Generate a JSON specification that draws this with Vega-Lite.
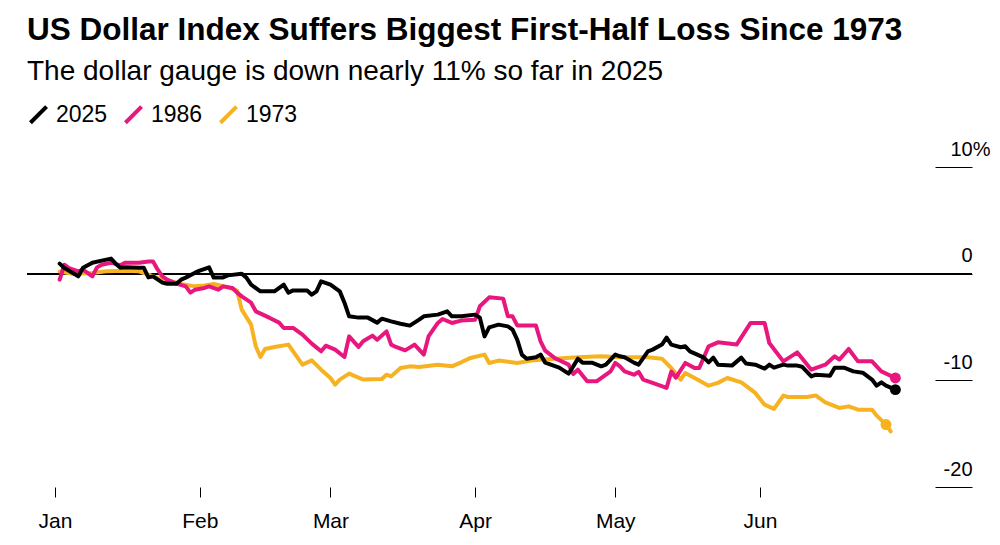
{
  "$schema": "https://vega.github.io/schema/vega-lite/v6.json",
  "width": 945,
  "height": 320,
  "autosize": {"type": "none"},
  "padding": {"left": 27, "top": 167, "right": 28, "bottom": 58},
  "background": "white",
  "title": {
    "text": "US Dollar Index Suffers Biggest First-Half Loss Since 1973",
    "subtitle": "The dollar gauge is down nearly 11% so far in 2025",
    "anchor": "start",
    "frame": "group",
    "font": "Liberation Sans",
    "fontSize": 31.5,
    "fontWeight": "bold",
    "color": "#000000",
    "subtitleFont": "Liberation Sans",
    "subtitleFontSize": 28,
    "subtitleColor": "#000000",
    "subtitlePadding": 12,
    "offset": 17
  },
  "datasets": {
    "fx": [
      {"series": "1973", "date": "2025-01-02", "change": 0.19},
      {"series": "1973", "date": "2025-01-05", "change": -0.03},
      {"series": "1973", "date": "2025-01-09", "change": 0.07},
      {"series": "1973", "date": "2025-01-12", "change": 0.22},
      {"series": "1973", "date": "2025-01-16", "change": 0.28},
      {"series": "1973", "date": "2025-01-19", "change": 0.22},
      {"series": "1973", "date": "2025-01-21", "change": -0.09},
      {"series": "1973", "date": "2025-01-23", "change": -0.4},
      {"series": "1973", "date": "2025-01-26", "change": -0.72},
      {"series": "1973", "date": "2025-01-28", "change": -0.97},
      {"series": "1973", "date": "2025-01-31", "change": -1.19},
      {"series": "1973", "date": "2025-02-02", "change": -1.1},
      {"series": "1973", "date": "2025-02-04", "change": -0.97},
      {"series": "1973", "date": "2025-02-07", "change": -1.28},
      {"series": "1973", "date": "2025-02-09", "change": -1.59},
      {"series": "1973", "date": "2025-02-10", "change": -3.37},
      {"series": "1973", "date": "2025-02-12", "change": -4.78},
      {"series": "1973", "date": "2025-02-13", "change": -6.81},
      {"series": "1973", "date": "2025-02-14", "change": -7.81},
      {"series": "1973", "date": "2025-02-15", "change": -7.06},
      {"series": "1973", "date": "2025-02-17", "change": -6.87},
      {"series": "1973", "date": "2025-02-20", "change": -6.65},
      {"series": "1973", "date": "2025-02-21", "change": -7.28},
      {"series": "1973", "date": "2025-02-23", "change": -8.53},
      {"series": "1973", "date": "2025-02-25", "change": -8.13},
      {"series": "1973", "date": "2025-02-27", "change": -9.0},
      {"series": "1973", "date": "2025-03-01", "change": -9.78},
      {"series": "1973", "date": "2025-03-02", "change": -10.4},
      {"series": "1973", "date": "2025-03-03", "change": -9.93},
      {"series": "1973", "date": "2025-03-05", "change": -9.37},
      {"series": "1973", "date": "2025-03-08", "change": -9.93},
      {"series": "1973", "date": "2025-03-12", "change": -9.87},
      {"series": "1973", "date": "2025-03-13", "change": -9.47},
      {"series": "1973", "date": "2025-03-14", "change": -9.63},
      {"series": "1973", "date": "2025-03-16", "change": -8.84},
      {"series": "1973", "date": "2025-03-18", "change": -8.69},
      {"series": "1973", "date": "2025-03-20", "change": -8.74},
      {"series": "1973", "date": "2025-03-24", "change": -8.53},
      {"series": "1973", "date": "2025-03-27", "change": -8.69},
      {"series": "1973", "date": "2025-03-29", "change": -8.31},
      {"series": "1973", "date": "2025-03-31", "change": -7.9},
      {"series": "1973", "date": "2025-04-03", "change": -7.59},
      {"series": "1973", "date": "2025-04-04", "change": -8.37},
      {"series": "1973", "date": "2025-04-06", "change": -8.15},
      {"series": "1973", "date": "2025-04-10", "change": -8.37},
      {"series": "1973", "date": "2025-04-13", "change": -8.15},
      {"series": "1973", "date": "2025-04-18", "change": -7.97},
      {"series": "1973", "date": "2025-04-23", "change": -7.84},
      {"series": "1973", "date": "2025-04-28", "change": -7.75},
      {"series": "1973", "date": "2025-05-02", "change": -7.84},
      {"series": "1973", "date": "2025-05-08", "change": -7.84},
      {"series": "1973", "date": "2025-05-11", "change": -7.97},
      {"series": "1973", "date": "2025-05-13", "change": -8.84},
      {"series": "1973", "date": "2025-05-15", "change": -9.93},
      {"series": "1973", "date": "2025-05-16", "change": -9.31},
      {"series": "1973", "date": "2025-05-18", "change": -9.78},
      {"series": "1973", "date": "2025-05-21", "change": -10.5},
      {"series": "1973", "date": "2025-05-23", "change": -10.24},
      {"series": "1973", "date": "2025-05-25", "change": -9.78},
      {"series": "1973", "date": "2025-05-28", "change": -10.19},
      {"series": "1973", "date": "2025-05-31", "change": -11.18},
      {"series": "1973", "date": "2025-06-02", "change": -12.28},
      {"series": "1973", "date": "2025-06-04", "change": -12.68},
      {"series": "1973", "date": "2025-06-06", "change": -11.43},
      {"series": "1973", "date": "2025-06-07", "change": -11.56},
      {"series": "1973", "date": "2025-06-11", "change": -11.56},
      {"series": "1973", "date": "2025-06-13", "change": -11.43},
      {"series": "1973", "date": "2025-06-15", "change": -12.06},
      {"series": "1973", "date": "2025-06-18", "change": -12.59},
      {"series": "1973", "date": "2025-06-20", "change": -12.44},
      {"series": "1973", "date": "2025-06-22", "change": -12.75},
      {"series": "1973", "date": "2025-06-25", "change": -12.75},
      {"series": "1973", "date": "2025-06-26", "change": -13.31},
      {"series": "1973", "date": "2025-06-28", "change": -14.15},
      {"series": "1973", "date": "2025-06-29", "change": -14.78},

      {"series": "1986", "date": "2025-01-02", "change": -0.56},
      {"series": "1986", "date": "2025-01-03", "change": 0.84},
      {"series": "1986", "date": "2025-01-04", "change": 0.53},
      {"series": "1986", "date": "2025-01-06", "change": 0.22},
      {"series": "1986", "date": "2025-01-07", "change": 0.37},
      {"series": "1986", "date": "2025-01-09", "change": -0.25},
      {"series": "1986", "date": "2025-01-10", "change": 0.59},
      {"series": "1986", "date": "2025-01-11", "change": 0.84},
      {"series": "1986", "date": "2025-01-13", "change": 1.03},
      {"series": "1986", "date": "2025-01-15", "change": 0.78},
      {"series": "1986", "date": "2025-01-16", "change": 1.03},
      {"series": "1986", "date": "2025-01-19", "change": 1.03},
      {"series": "1986", "date": "2025-01-21", "change": 1.15},
      {"series": "1986", "date": "2025-01-22", "change": 1.15},
      {"series": "1986", "date": "2025-01-23", "change": 0.37},
      {"series": "1986", "date": "2025-01-24", "change": -0.25},
      {"series": "1986", "date": "2025-01-25", "change": -0.56},
      {"series": "1986", "date": "2025-01-27", "change": -0.94},
      {"series": "1986", "date": "2025-01-29", "change": -1.19},
      {"series": "1986", "date": "2025-01-30", "change": -1.78},
      {"series": "1986", "date": "2025-01-31", "change": -1.5},
      {"series": "1986", "date": "2025-02-02", "change": -1.34},
      {"series": "1986", "date": "2025-02-03", "change": -1.19},
      {"series": "1986", "date": "2025-02-05", "change": -1.5},
      {"series": "1986", "date": "2025-02-06", "change": -1.19},
      {"series": "1986", "date": "2025-02-08", "change": -1.34},
      {"series": "1986", "date": "2025-02-09", "change": -1.78},
      {"series": "1986", "date": "2025-02-10", "change": -2.13},
      {"series": "1986", "date": "2025-02-12", "change": -2.72},
      {"series": "1986", "date": "2025-02-13", "change": -3.53},
      {"series": "1986", "date": "2025-02-16", "change": -4.15},
      {"series": "1986", "date": "2025-02-18", "change": -4.59},
      {"series": "1986", "date": "2025-02-19", "change": -5.09},
      {"series": "1986", "date": "2025-02-21", "change": -5.09},
      {"series": "1986", "date": "2025-02-23", "change": -5.72},
      {"series": "1986", "date": "2025-02-25", "change": -6.56},
      {"series": "1986", "date": "2025-02-27", "change": -7.28},
      {"series": "1986", "date": "2025-02-28", "change": -6.75},
      {"series": "1986", "date": "2025-03-02", "change": -7.12},
      {"series": "1986", "date": "2025-03-04", "change": -7.81},
      {"series": "1986", "date": "2025-03-05", "change": -5.88},
      {"series": "1986", "date": "2025-03-07", "change": -6.87},
      {"series": "1986", "date": "2025-03-08", "change": -6.34},
      {"series": "1986", "date": "2025-03-10", "change": -5.81},
      {"series": "1986", "date": "2025-03-11", "change": -6.19},
      {"series": "1986", "date": "2025-03-13", "change": -5.41},
      {"series": "1986", "date": "2025-03-14", "change": -6.65},
      {"series": "1986", "date": "2025-03-15", "change": -6.87},
      {"series": "1986", "date": "2025-03-17", "change": -7.19},
      {"series": "1986", "date": "2025-03-19", "change": -6.65},
      {"series": "1986", "date": "2025-03-21", "change": -7.59},
      {"series": "1986", "date": "2025-03-22", "change": -5.88},
      {"series": "1986", "date": "2025-03-24", "change": -4.62},
      {"series": "1986", "date": "2025-03-25", "change": -4.25},
      {"series": "1986", "date": "2025-03-27", "change": -4.62},
      {"series": "1986", "date": "2025-03-29", "change": -4.4},
      {"series": "1986", "date": "2025-04-01", "change": -4.31},
      {"series": "1986", "date": "2025-04-02", "change": -3.06},
      {"series": "1986", "date": "2025-04-04", "change": -2.22},
      {"series": "1986", "date": "2025-04-07", "change": -2.34},
      {"series": "1986", "date": "2025-04-08", "change": -4.0},
      {"series": "1986", "date": "2025-04-09", "change": -4.0},
      {"series": "1986", "date": "2025-04-10", "change": -4.85},
      {"series": "1986", "date": "2025-04-14", "change": -4.85},
      {"series": "1986", "date": "2025-04-15", "change": -6.34},
      {"series": "1986", "date": "2025-04-16", "change": -7.22},
      {"series": "1986", "date": "2025-04-18", "change": -7.9},
      {"series": "1986", "date": "2025-04-21", "change": -8.53},
      {"series": "1986", "date": "2025-04-22", "change": -9.4},
      {"series": "1986", "date": "2025-04-23", "change": -9.0},
      {"series": "1986", "date": "2025-04-25", "change": -10.09},
      {"series": "1986", "date": "2025-04-27", "change": -10.09},
      {"series": "1986", "date": "2025-04-30", "change": -9.16},
      {"series": "1986", "date": "2025-05-01", "change": -8.37},
      {"series": "1986", "date": "2025-05-02", "change": -8.69},
      {"series": "1986", "date": "2025-05-03", "change": -9.16},
      {"series": "1986", "date": "2025-05-05", "change": -9.47},
      {"series": "1986", "date": "2025-05-06", "change": -9.21},
      {"series": "1986", "date": "2025-05-07", "change": -9.93},
      {"series": "1986", "date": "2025-05-09", "change": -10.24},
      {"series": "1986", "date": "2025-05-12", "change": -10.71},
      {"series": "1986", "date": "2025-05-13", "change": -9.18},
      {"series": "1986", "date": "2025-05-14", "change": -9.75},
      {"series": "1986", "date": "2025-05-16", "change": -8.37},
      {"series": "1986", "date": "2025-05-18", "change": -8.84},
      {"series": "1986", "date": "2025-05-19", "change": -8.84},
      {"series": "1986", "date": "2025-05-21", "change": -6.81},
      {"series": "1986", "date": "2025-05-23", "change": -6.44},
      {"series": "1986", "date": "2025-05-27", "change": -6.65},
      {"series": "1986", "date": "2025-05-30", "change": -4.62},
      {"series": "1986", "date": "2025-06-02", "change": -4.62},
      {"series": "1986", "date": "2025-06-03", "change": -6.5},
      {"series": "1986", "date": "2025-06-06", "change": -8.22},
      {"series": "1986", "date": "2025-06-09", "change": -7.38},
      {"series": "1986", "date": "2025-06-12", "change": -9.0},
      {"series": "1986", "date": "2025-06-15", "change": -8.53},
      {"series": "1986", "date": "2025-06-17", "change": -7.75},
      {"series": "1986", "date": "2025-06-18", "change": -8.06},
      {"series": "1986", "date": "2025-06-20", "change": -7.06},
      {"series": "1986", "date": "2025-06-22", "change": -8.22},
      {"series": "1986", "date": "2025-06-25", "change": -8.22},
      {"series": "1986", "date": "2025-06-27", "change": -9.16},
      {"series": "1986", "date": "2025-06-30", "change": -9.78},

      {"series": "2025", "date": "2025-01-02", "change": 0.94},
      {"series": "2025", "date": "2025-01-03", "change": 0.53},
      {"series": "2025", "date": "2025-01-06", "change": -0.25},
      {"series": "2025", "date": "2025-01-07", "change": 0.56},
      {"series": "2025", "date": "2025-01-09", "change": 1.03},
      {"series": "2025", "date": "2025-01-11", "change": 1.22},
      {"series": "2025", "date": "2025-01-13", "change": 1.41},
      {"series": "2025", "date": "2025-01-14", "change": 0.94},
      {"series": "2025", "date": "2025-01-15", "change": 0.56},
      {"series": "2025", "date": "2025-01-16", "change": 0.59},
      {"series": "2025", "date": "2025-01-19", "change": 0.56},
      {"series": "2025", "date": "2025-01-20", "change": 0.56},
      {"series": "2025", "date": "2025-01-21", "change": -0.35},
      {"series": "2025", "date": "2025-01-22", "change": -0.25},
      {"series": "2025", "date": "2025-01-24", "change": -0.84},
      {"series": "2025", "date": "2025-01-25", "change": -0.94},
      {"series": "2025", "date": "2025-01-27", "change": -0.94},
      {"series": "2025", "date": "2025-01-28", "change": -0.56},
      {"series": "2025", "date": "2025-01-29", "change": -0.37},
      {"series": "2025", "date": "2025-01-31", "change": 0.09},
      {"series": "2025", "date": "2025-02-01", "change": 0.28},
      {"series": "2025", "date": "2025-02-03", "change": 0.59},
      {"series": "2025", "date": "2025-02-04", "change": -0.37},
      {"series": "2025", "date": "2025-02-06", "change": -0.35},
      {"series": "2025", "date": "2025-02-07", "change": -0.16},
      {"series": "2025", "date": "2025-02-10", "change": 0.0},
      {"series": "2025", "date": "2025-02-11", "change": -0.37},
      {"series": "2025", "date": "2025-02-12", "change": -1.03},
      {"series": "2025", "date": "2025-02-14", "change": -1.66},
      {"series": "2025", "date": "2025-02-17", "change": -1.66},
      {"series": "2025", "date": "2025-02-19", "change": -1.03},
      {"series": "2025", "date": "2025-02-20", "change": -1.78},
      {"series": "2025", "date": "2025-02-21", "change": -1.57},
      {"series": "2025", "date": "2025-02-24", "change": -1.57},
      {"series": "2025", "date": "2025-02-25", "change": -1.97},
      {"series": "2025", "date": "2025-02-26", "change": -1.66},
      {"series": "2025", "date": "2025-02-27", "change": -0.72},
      {"series": "2025", "date": "2025-03-01", "change": -1.03},
      {"series": "2025", "date": "2025-03-03", "change": -1.66},
      {"series": "2025", "date": "2025-03-04", "change": -2.72},
      {"series": "2025", "date": "2025-03-05", "change": -4.0},
      {"series": "2025", "date": "2025-03-07", "change": -4.12},
      {"series": "2025", "date": "2025-03-09", "change": -4.12},
      {"series": "2025", "date": "2025-03-11", "change": -4.59},
      {"series": "2025", "date": "2025-03-12", "change": -4.22},
      {"series": "2025", "date": "2025-03-14", "change": -4.47},
      {"series": "2025", "date": "2025-03-16", "change": -4.69},
      {"series": "2025", "date": "2025-03-18", "change": -4.87},
      {"series": "2025", "date": "2025-03-20", "change": -4.31},
      {"series": "2025", "date": "2025-03-21", "change": -4.0},
      {"series": "2025", "date": "2025-03-24", "change": -3.84},
      {"series": "2025", "date": "2025-03-26", "change": -3.53},
      {"series": "2025", "date": "2025-03-27", "change": -4.0},
      {"series": "2025", "date": "2025-03-29", "change": -4.0},
      {"series": "2025", "date": "2025-04-01", "change": -3.84},
      {"series": "2025", "date": "2025-04-02", "change": -4.12},
      {"series": "2025", "date": "2025-04-03", "change": -5.88},
      {"series": "2025", "date": "2025-04-04", "change": -5.03},
      {"series": "2025", "date": "2025-04-06", "change": -4.78},
      {"series": "2025", "date": "2025-04-08", "change": -4.94},
      {"series": "2025", "date": "2025-04-09", "change": -5.25},
      {"series": "2025", "date": "2025-04-10", "change": -6.19},
      {"series": "2025", "date": "2025-04-11", "change": -7.59},
      {"series": "2025", "date": "2025-04-12", "change": -7.97},
      {"series": "2025", "date": "2025-04-14", "change": -7.84},
      {"series": "2025", "date": "2025-04-15", "change": -7.59},
      {"series": "2025", "date": "2025-04-16", "change": -8.34},
      {"series": "2025", "date": "2025-04-19", "change": -8.81},
      {"series": "2025", "date": "2025-04-21", "change": -9.37},
      {"series": "2025", "date": "2025-04-22", "change": -8.69},
      {"series": "2025", "date": "2025-04-23", "change": -7.97},
      {"series": "2025", "date": "2025-04-24", "change": -8.34},
      {"series": "2025", "date": "2025-04-26", "change": -8.34},
      {"series": "2025", "date": "2025-04-28", "change": -8.69},
      {"series": "2025", "date": "2025-04-29", "change": -8.53},
      {"series": "2025", "date": "2025-05-01", "change": -7.59},
      {"series": "2025", "date": "2025-05-02", "change": -7.75},
      {"series": "2025", "date": "2025-05-03", "change": -7.84},
      {"series": "2025", "date": "2025-05-05", "change": -8.34},
      {"series": "2025", "date": "2025-05-06", "change": -8.53},
      {"series": "2025", "date": "2025-05-08", "change": -7.28},
      {"series": "2025", "date": "2025-05-09", "change": -7.12},
      {"series": "2025", "date": "2025-05-11", "change": -6.65},
      {"series": "2025", "date": "2025-05-12", "change": -6.0},
      {"series": "2025", "date": "2025-05-13", "change": -6.65},
      {"series": "2025", "date": "2025-05-15", "change": -6.9},
      {"series": "2025", "date": "2025-05-16", "change": -6.81},
      {"series": "2025", "date": "2025-05-17", "change": -7.28},
      {"series": "2025", "date": "2025-05-20", "change": -7.87},
      {"series": "2025", "date": "2025-05-21", "change": -8.31},
      {"series": "2025", "date": "2025-05-22", "change": -7.87},
      {"series": "2025", "date": "2025-05-23", "change": -8.53},
      {"series": "2025", "date": "2025-05-26", "change": -8.62},
      {"series": "2025", "date": "2025-05-28", "change": -7.87},
      {"series": "2025", "date": "2025-05-29", "change": -8.43},
      {"series": "2025", "date": "2025-05-31", "change": -8.53},
      {"series": "2025", "date": "2025-06-02", "change": -8.9},
      {"series": "2025", "date": "2025-06-03", "change": -8.53},
      {"series": "2025", "date": "2025-06-04", "change": -8.81},
      {"series": "2025", "date": "2025-06-06", "change": -8.53},
      {"series": "2025", "date": "2025-06-07", "change": -8.62},
      {"series": "2025", "date": "2025-06-09", "change": -8.62},
      {"series": "2025", "date": "2025-06-10", "change": -8.72},
      {"series": "2025", "date": "2025-06-12", "change": -9.63},
      {"series": "2025", "date": "2025-06-13", "change": -9.47},
      {"series": "2025", "date": "2025-06-16", "change": -9.56},
      {"series": "2025", "date": "2025-06-17", "change": -8.81},
      {"series": "2025", "date": "2025-06-19", "change": -8.81},
      {"series": "2025", "date": "2025-06-21", "change": -9.16},
      {"series": "2025", "date": "2025-06-23", "change": -9.28},
      {"series": "2025", "date": "2025-06-25", "change": -9.93},
      {"series": "2025", "date": "2025-06-26", "change": -10.5},
      {"series": "2025", "date": "2025-06-27", "change": -10.19},
      {"series": "2025", "date": "2025-06-28", "change": -10.5},
      {"series": "2025", "date": "2025-06-30", "change": -10.87}
    ]
  },
  "data": {"name": "fx"},
  "encoding": {
    "x": {
      "field": "date",
      "type": "temporal",
      "scale": {
        "type": "utc",
        "domain": [
          {"year": 2024, "month": 12, "date": 26, "utc": true},
          {"year": 2025, "month": 7, "date": 16, "hours": 10, "utc": true}
        ]
      },
      "axis": {
        "title": null,
        "values": [
          {"year": 2025, "month": 1, "date": 1, "utc": true},
          {"year": 2025, "month": 2, "date": 1, "utc": true},
          {"year": 2025, "month": 3, "date": 1, "utc": true},
          {"year": 2025, "month": 4, "date": 1, "utc": true},
          {"year": 2025, "month": 5, "date": 1, "utc": true},
          {"year": 2025, "month": 6, "date": 1, "utc": true}
        ],
        "labelExpr": "utcFormat(datum.value, '%b')",
        "domain": false,
        "grid": false,
        "ticks": true,
        "tickSize": 10,
        "tickColor": "#000000",
        "tickWidth": 1,
        "labelFont": "Liberation Sans",
        "labelFontSize": 21,
        "labelColor": "#000000",
        "labelPadding": 13
      }
    },
    "y": {
      "field": "change",
      "type": "quantitative",
      "scale": {"domain": [-20, 10], "nice": false, "zero": false},
      "axis": {
        "title": null,
        "orient": "right",
        "values": [-20, -10, 0, 10],
        "offset": -37,
        "tickSize": 37,
        "tickColor": "#000000",
        "tickWidth": 1,
        "domain": false,
        "grid": false,
        "labelFont": "Liberation Sans",
        "labelFontSize": 20,
        "labelColor": "#000000",
        "labelAlign": "right",
        "labelBaseline": "alphabetic",
        "labelOffset": -12,
        "labelPadding": {"condition": {"test": "datum.value === 10", "value": 18}, "value": 0},
        "labelExpr": "datum.value === 10 ? '10%' : (datum.value < 0 ? '-' + abs(datum.value) : '' + datum.value)"
      }
    }
  },
  "layer": [
    {
      "mark": {"type": "rule", "color": "#000000", "strokeWidth": 1},
      "encoding": {"y": {"datum": 0}, "x": null}
    },
    {
      "mark": {"type": "line", "strokeWidth": 4, "strokeJoin": "round", "strokeCap": "round"},
      "encoding": {
        "color": {
          "field": "series",
          "type": "nominal",
          "scale": {"domain": ["2025", "1986", "1973"], "range": ["#000000", "#E8177D", "#F6B221"]},
          "legend": {
            "title": null,
            "orient": "none",
            "legendX": 0,
            "legendY": -64,
            "direction": "horizontal",
            "symbolType": "M-1,1L1,-1",
            "symbolSize": 260,
            "symbolStrokeWidth": 4,
            "labelFont": "Liberation Sans",
            "labelFontSize": 23,
            "labelColor": "#000000",
            "labelOffset": 6,
            "columnPadding": 9
          }
        }
      }
    },
    {
      "transform": [
        {
          "window": [{"op": "rank", "as": "pos"}],
          "sort": [{"field": "date", "order": "descending"}],
          "groupby": ["series"]
        },
        {"filter": "datum.series === '1973' ? datum.pos === 2 : datum.pos === 1"}
      ],
      "mark": {"type": "circle", "size": 120, "opacity": 1},
      "encoding": {
        "fill": {
          "field": "series",
          "type": "nominal",
          "scale": {"domain": ["2025", "1986", "1973"], "range": ["#000000", "#E8177D", "#F6B221"]},
          "legend": null
        }
      }
    }
  ],
  "config": {
    "view": {"stroke": null},
    "font": "Liberation Sans"
  }
}
